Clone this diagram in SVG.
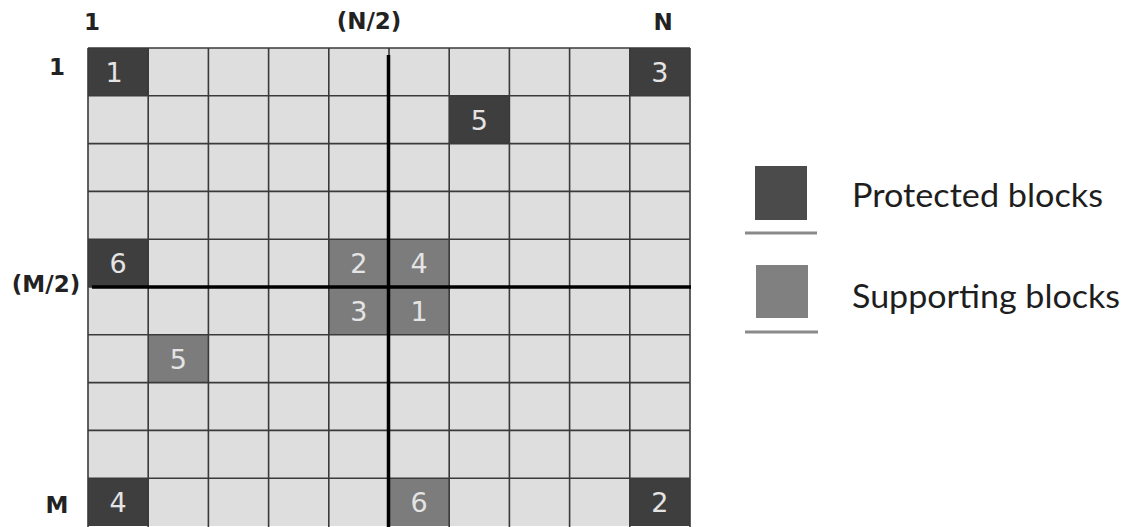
<svg xmlns="http://www.w3.org/2000/svg" width="1130" height="527" viewBox="0 0 1130 527">
  <style>
    .cell { fill: #dedede; }
    .prot { fill: #3e3e3e; }
    .supp { fill: #7c7c7c; }
    .grid line { stroke: #3a3a3a; stroke-width: 1.6; }
    .axis { stroke: #000; stroke-width: 3.5; }
    .num { font-family: "DejaVu Sans", sans-serif; font-size: 27px; fill: #e4e4e4; text-anchor: middle; }
    .lbl { font-family: "DejaVu Sans", sans-serif; font-weight: bold; font-size: 23px; fill: #222; text-anchor: middle; }
    .leg { font-family: Lato, "Open Sans", sans-serif; font-size: 32px; fill: #1e1e1e; }
    .legline { stroke: #8a8a8a; stroke-width: 3; }
  </style>
  <rect width="1130" height="527" fill="#fff"/>

  <!-- axis labels -->
  <g id="labels">
    <text class="lbl" x="92" y="30">1</text>
    <text class="lbl" x="369" y="29">(N/2)</text>
    <text class="lbl" x="663" y="30">N</text>
    <text class="lbl" x="57" y="75">1</text>
    <text class="lbl" x="46" y="292">(M/2)</text>
    <text class="lbl" x="57" y="513">M</text>
  </g>

  <!-- grid background -->
  <rect class="cell" x="88" y="48" width="602" height="478"/>

  <!-- blocks -->
  <g id="p1"><rect class="prot" x="88" y="48" width="60.2" height="47.8"/></g>
  <g id="p3"><rect class="prot" x="629.8" y="48" width="60.2" height="47.8"/></g>
  <g id="p5"><rect class="prot" x="449.2" y="95.8" width="60.2" height="47.8"/></g>
  <g id="p6"><rect class="prot" x="88" y="239.2" width="60.2" height="47.8"/></g>
  <g id="p4"><rect class="prot" x="88" y="478.2" width="60.2" height="47.8"/></g>
  <g id="p2"><rect class="prot" x="629.8" y="478.2" width="60.2" height="47.8"/></g>
  <g id="s2"><rect class="supp" x="328.8" y="239.2" width="60.2" height="47.8"/></g>
  <g id="s4"><rect class="supp" x="389" y="239.2" width="60.2" height="47.8"/></g>
  <g id="s3"><rect class="supp" x="328.8" y="287" width="60.2" height="47.8"/></g>
  <g id="s1"><rect class="supp" x="389" y="287" width="60.2" height="47.8"/></g>
  <g id="s5"><rect class="supp" x="148.2" y="334.8" width="60.2" height="47.8"/></g>
  <g id="s6"><rect class="supp" x="389" y="478.2" width="60.2" height="47.8"/></g>

  <!-- grid lines -->
  <g class="grid">
    <line x1="88" y1="48" x2="88" y2="527"/>
    <line x1="148.2" y1="48" x2="148.2" y2="527"/>
    <line x1="208.4" y1="48" x2="208.4" y2="527"/>
    <line x1="268.6" y1="48" x2="268.6" y2="527"/>
    <line x1="328.8" y1="48" x2="328.8" y2="527"/>
    <line x1="389" y1="48" x2="389" y2="527"/>
    <line x1="449.2" y1="48" x2="449.2" y2="527"/>
    <line x1="509.4" y1="48" x2="509.4" y2="527"/>
    <line x1="569.6" y1="48" x2="569.6" y2="527"/>
    <line x1="629.8" y1="48" x2="629.8" y2="527"/>
    <line x1="690" y1="48" x2="690" y2="527"/>
    <line x1="88" y1="48" x2="690" y2="48"/>
    <line x1="88" y1="95.8" x2="690" y2="95.8"/>
    <line x1="88" y1="143.6" x2="690" y2="143.6"/>
    <line x1="88" y1="191.4" x2="690" y2="191.4"/>
    <line x1="88" y1="239.2" x2="690" y2="239.2"/>
    <line x1="88" y1="287" x2="690" y2="287"/>
    <line x1="88" y1="334.8" x2="690" y2="334.8"/>
    <line x1="88" y1="382.6" x2="690" y2="382.6"/>
    <line x1="88" y1="430.4" x2="690" y2="430.4"/>
    <line x1="88" y1="478.2" x2="690" y2="478.2"/>
  </g>

  <!-- midlines -->
  <g id="connectors">
    <line class="axis" x1="388.5" y1="55" x2="388.5" y2="527"/>
    <line class="axis" x1="92" y1="287" x2="691" y2="287"/>
  </g>

  <!-- block numbers -->
  <g id="numbers">
    <text class="num" x="114" y="82">1</text>
    <text class="num" x="659.9" y="82">3</text>
    <text class="num" x="479.3" y="129.8">5</text>
    <text class="num" x="118.1" y="273.2">6</text>
    <text class="num" x="118.1" y="512.2">4</text>
    <text class="num" x="659.9" y="512.2">2</text>
    <text class="num" x="358.9" y="273.2">2</text>
    <text class="num" x="419.1" y="273.2">4</text>
    <text class="num" x="358.9" y="321">3</text>
    <text class="num" x="419.1" y="321">1</text>
    <text class="num" x="178.3" y="368.8">5</text>
    <text class="num" x="419.1" y="512.2">6</text>
  </g>

  <!-- legend -->
  <g id="legend-protected">
    <rect x="755" y="166" width="52" height="54" fill="#4b4b4b"/>
    <line class="legline" x1="745" y1="233" x2="817" y2="233"/>
    <text class="leg" x="852" y="207" textLength="251" lengthAdjust="spacingAndGlyphs">Protected blocks</text>
  </g>
  <g id="legend-supporting">
    <rect x="756" y="265" width="52" height="53" fill="#808080"/>
    <line class="legline" x1="745" y1="332" x2="818" y2="332"/>
    <text class="leg" x="852" y="308" textLength="268" lengthAdjust="spacingAndGlyphs">Supporting blocks</text>
  </g>
</svg>
